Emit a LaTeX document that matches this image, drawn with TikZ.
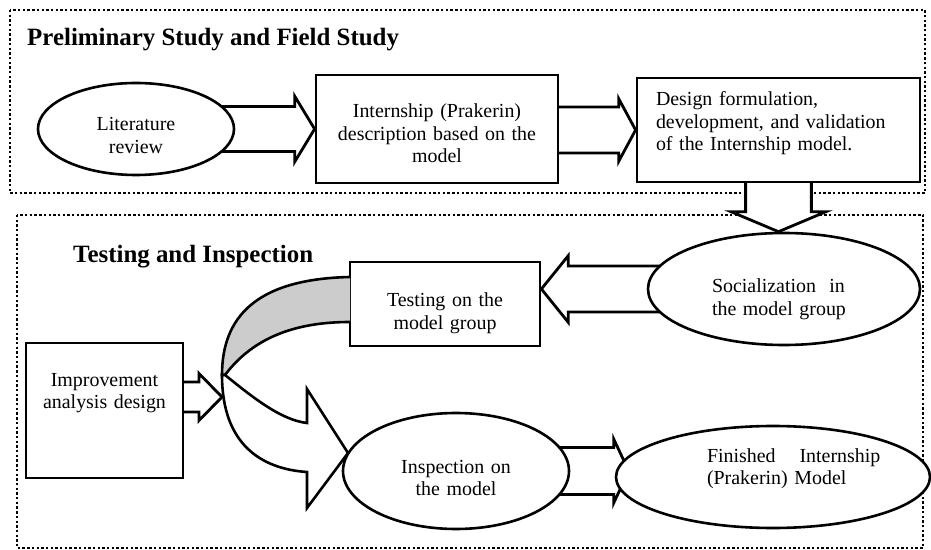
\documentclass[tikz,border=0pt]{standalone}
\usepackage{fontspec}
\setmainfont{Liberation Serif}
\usetikzlibrary{shapes.geometric}
\usetikzlibrary{calc}
\usetikzlibrary{backgrounds}

% block arrows: #1 start, #2 tip, #3 half shaft, #4 half head, #5 head length
\newcommand\hblock[5]{%
\draw[blockarrow] let \p1=#1, \p2=#2 in ({\x1},{\y2+#3pt}) -- ({\x2-#5pt},{\y2+#3pt}) -- ({\x2-#5pt},{\y2+#4pt}) -- (\p2) -- ({\x2-#5pt},{\y2-#4pt}) -- ({\x2-#5pt},{\y2-#3pt}) -- ({\x1},{\y2-#3pt});}
\newcommand\vblock[5]{%
\draw[blockarrow] let \p1=#1, \p2=#2 in ({\x2+#3pt},{\y1}) -- ({\x2+#3pt},{\y2+#5pt}) -- ({\x2+#4pt},{\y2+#5pt}) -- (\p2) -- ({\x2-#4pt},{\y2+#5pt}) -- ({\x2-#3pt},{\y2+#5pt}) -- ({\x2-#3pt},{\y1});}

\begin{document}
\begin{tikzpicture}[x=1bp,y=-1bp,
  every node/.style={font=\fontsize{20}{22.5}\selectfont, inner sep=0pt},
  box/.style={rectangle, draw, line width=2.8bp, fill=white},
  oval/.style={ellipse, draw, line width=2.6bp, fill=white},
  blockarrow/.style={draw, fill=white, line width=2.8bp, line join=miter},
  dotbox/.style={line width=2.6bp, dash pattern=on 2.4bp off 2.3bp},
  heading/.style={font=\bfseries\fontsize{25}{29}\selectfont, anchor=west}]
\useasboundingbox (0,0) rectangle (931,550);

\node[heading] (sec1) at (27,40) {Preliminary Study and Field Study};
\node[heading] (sec2) at (73,257) {Testing and Inspection};

\node[oval, minimum width=196bp, minimum height=92bp, text width=100bp, align=center, text height=32bp, text depth=28bp] (lit) at (136,129) {Literature\\review};
\node[box, minimum width=242bp, minimum height=108bp, text width=210bp, align=center, text height=19bp, text depth=41bp] (intern) at (437,129) {Internship (Prakerin)\\description based on the\\model};
\node[box, minimum width=283bp, minimum height=104bp, text width=245bp, align=left, text height=6bp, text depth=54bp] (design) at (778.5,130) {Design formulation,\\development, and validation\\of the Internship model.};
\node[oval, minimum width=272bp, minimum height=112bp, text width=144bp, align=left, text height=34bp, text depth=26bp] (soc) at (784,289) {Socialization~~in\\the model group};
\node[box, minimum width=190bp, minimum height=84bp, text width=170bp, align=center, text height=33bp, text depth=27bp] (test) at (445,304) {Testing on the\\model group};
\node[box, minimum width=157bp, minimum height=135bp, text width=150bp, align=center, text height=5.5bp, text depth=54.5bp] (imp) at (104.5,410.5) {Improvement\\analysis design};
\node[oval, minimum width=226bp, minimum height=116bp, text width=140bp, align=center, text height=32bp, text depth=28bp] (insp) at (456,471) {Inspection on\\the model};
\node[oval, minimum width=314bp, minimum height=102bp, text width=132bp, align=left, text height=15bp, text depth=45bp] (fin) at (773,477) {\makebox[132bp][l]{Finished\hspace{1.2em}Internship}\\\makebox[132bp][l]{(Prakerin) Model}};

\coordinate (bend) at (222,397);

\begin{pgfonlayer}{background}
\draw[dotbox] (10,10) rectangle (925,193);
\draw[dotbox] (17,215) rectangle (923,548);
\hblock{(lit.center)}{(intern.west)}{22.5}{33}{20}
\hblock{(intern.center)}{(design.west)}{23}{31.5}{17}
\vblock{(design.center)}{(design.south |- soc.north)}{33}{47.5}{20}
\hblock{(soc.center)}{(test.east |- soc.center)}{23}{33.5}{-27}
\hblock{(insp.center)}{($(fin.west |- insp.center)+(14,0)$)}{23.5}{32}{15}
\hblock{(imp.center)}{(bend)}{15}{23.5}{23}
\end{pgfonlayer}

% curved arrow from the testing group down to the inspection
\draw[line width=2.6bp, fill=gray!40] (350,277) .. controls (255,279) and (222,318) .. (222,375) -- (225,375) .. controls (255,335) and (300,322) .. (350,322);
\draw[line width=2.6bp, fill=white, line join=miter] (225,375) .. controls (250,395) and (280,420) .. (307,423) -- (307,389) -- (348,453) -- (307,508) -- (307,472) .. controls (262,469) and (222,445) .. (222,375) -- cycle;

\end{tikzpicture}
\end{document}
